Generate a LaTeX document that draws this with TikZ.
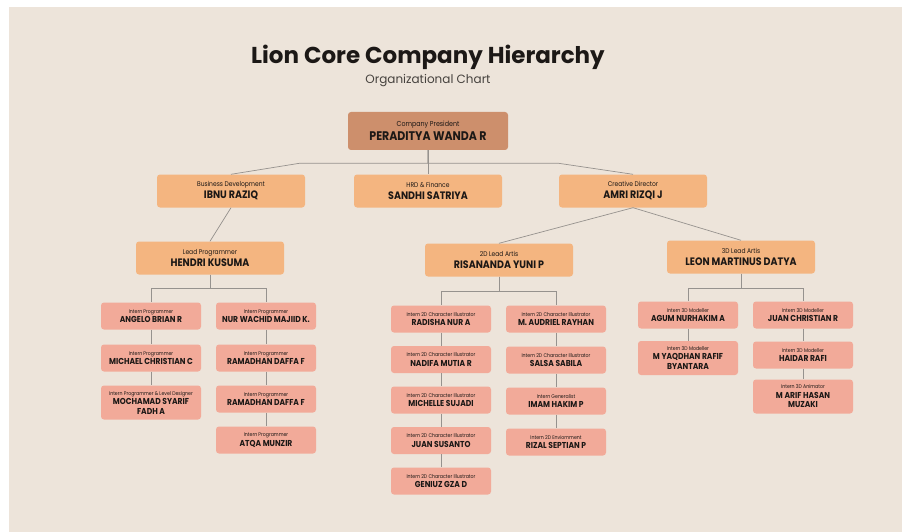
\documentclass[tikz,border=0pt]{standalone}
\usepackage{fontspec}
\setmainfont{Poppins}
\newfontfamily\namefont{Poppins}[FakeStretch=0.88]
\usepackage{xcolor}
\usepackage{tikz}
\usetikzlibrary{positioning}

\definecolor{bgc}{RGB}{237,228,218}
\definecolor{presc}{RGB}{205,143,108}
\definecolor{leadc}{RGB}{244,181,128}
\definecolor{internc}{RGB}{242,170,153}
\definecolor{linec}{RGB}{150,146,142}
\definecolor{inkc}{RGB}{28,24,22}
\definecolor{subc}{RGB}{70,66,62}

\newcommand{\jobrole}[1]{{\mdseries\fontsize{\rsize}{\rsize}\selectfont #1}}

\begin{document}
\begin{tikzpicture}[x=1pt, y=-1pt, on grid, node distance = 40pt and 100pt,
  card/.style={rectangle, rounded corners=3pt, align=center, inner sep=0pt, text=inkc},
  pres/.style={card, fill=presc, minimum width=160pt, minimum height=38pt, font=\namefont\def\rsize{7.2}\fontsize{12.5}{13.5}\selectfont\bfseries},
  lead/.style={card, fill=leadc, minimum width=148pt, minimum height=33pt, font=\namefont\def\rsize{6.8}\fontsize{10.8}{12}\selectfont\bfseries},
  intern/.style={card, fill=internc, minimum width=100pt, minimum height=27pt, font=\namefont\def\rsize{5.3}\fontsize{8.6}{9.5}\selectfont\bfseries},
  tall/.style={minimum height=34pt},
  link/.style={draw=linec, line width=0.7pt}]
		\fill[bgc] (9,7) rectangle (902,532);
		\useasboundingbox (0,0) rectangle (902,532);
		% title
		\node[font=\fontsize{23}{27}\selectfont\bfseries, text=inkc] (title) at (428,57) {Lion Core Company Hierarchy};
		\node[font=\fontsize{12}{14}\selectfont, text=subc] (subtitle) [below = 24pt of title] {Organizational Chart};
		% top levels
		\node[pres] (pres) at (428,131) {\jobrole{Company President}\\PERADITYA WANDA R};
		\node[lead] (hrd) [below = 60pt of pres] {\jobrole{HRD \& Finance}\\SANDHI SATRIYA};
		\node[lead] (bizdev) [left = 197pt of hrd] {\jobrole{Business Development}\\IBNU RAZIQ};
		\node[lead] (creative) [right = 205pt of hrd] {\jobrole{Creative Director}\\AMRI RIZQI J};
		\node[lead] (leadprog) [below left = 67pt and 21pt of bizdev] {\jobrole{Lead Programmer}\\HENDRI KUSUMA};
		\node[lead] (lead2d) [below left = 69pt and 134pt of creative] {\jobrole{2D Lead Artis}\\RISANANDA YUNI P};
		\node[lead] (lead3d) [below right = 66pt and 108pt of creative] {\jobrole{3D Lead Artis}\\LEON MARTINUS DATYA};
		% programmers
		\node[intern] (prog1) [below left = 58pt and 59pt of leadprog] {\jobrole{Intern Programmer}\\ANGELO BRIAN R};
		\node[intern] (prog2) [below = 42pt of prog1] {\jobrole{Intern Programmer}\\MICHAEL CHRISTIAN C};
		\node[intern, tall] (prog3) [below = 44.5pt of prog2] {\jobrole{Intern Programmer \& Level Designer}\\MOCHAMAD SYARIF\\FADH A};
		\node[intern] (prog4) [right = 115pt of prog1] {\jobrole{Intern Programmer}\\NUR WACHID MAJIID K.};
		\node[intern] (prog5) [below = 42pt of prog4] {\jobrole{Intern Programmer}\\RAMADHAN DAFFA F};
		\node[intern] (prog6) [below = 41pt of prog5] {\jobrole{Intern Programmer}\\RAMADHAN DAFFA F};
		\node[intern] (prog7) [below = 41pt of prog6] {\jobrole{Intern Programmer}\\ATQA MUNZIR};
		% 2D artists
		\node[intern] (art1) [below left = 59pt and 58pt of lead2d] {\jobrole{Intern 2D Character Illustrator}\\RADISHA NUR A};
		\node[intern] (art2) [below = 40.5pt of art1] {\jobrole{Intern 2D Character Illustrator}\\NADIFA MUTIA R};
		\node[intern] (art3) [below = 40.5pt of art2] {\jobrole{Intern 2D Character Illustrator}\\MICHELLE SUJADI};
		\node[intern] (art4) [below = 40.5pt of art3] {\jobrole{Intern 2D Character Illustrator}\\JUAN SUSANTO};
		\node[intern] (art5) [below = 40.5pt of art4] {\jobrole{Intern 2D Character Illustrator}\\GENIUZ GZA D};
		\node[intern] (art6) [right = 115pt of art1] {\jobrole{Intern 2D Character Illustrator}\\M. AUDRIEL RAYHAN};
		\node[intern] (art7) [below = 41pt of art6] {\jobrole{Intern 2D Character Illustrator}\\SALSA SABILA};
		\node[intern] (art8) [below = 41pt of art7] {\jobrole{Intern Generalist}\\IMAM HAKIM P};
		\node[intern] (art9) [below = 41pt of art8] {\jobrole{Intern 2D Enviornment}\\RIZAL SEPTIAN P};
		% 3D artists
		\node[intern] (mod1) [below left = 58pt and 53pt of lead3d] {\jobrole{Intern 3D Modeller}\\AGUM NURHAKIM A};
		\node[intern, tall] (mod2) [below = 43pt of mod1] {\jobrole{Intern 3D Modeller}\\M YAQDHAN RAFIF\\BYANTARA};
		\node[intern] (mod3) [right = 115pt of mod1] {\jobrole{Intern 3D Modeller}\\JUAN CHRISTIAN R};
		\node[intern] (mod4) [below = 40pt of mod3] {\jobrole{Intern 3D Modeller}\\HAIDAR RAFI};
		\node[intern, tall] (mod5) [below = 41.5pt of mod4] {\jobrole{Intern 3D Animator}\\M ARIF HASAN\\MUZAKI};
		% links
		\draw[link] (pres.south) -- (hrd.north);
		\draw[link] (pres.south) -- ++(0,13) -- ++(-128,0) -- (bizdev.north);
		\draw[link] (pres.south) -- ++(0,13) -- ++(130,0) -- (creative.north);
		\path[link] (bizdev.south) edge (leadprog.north)
		(creative.south) edge (lead2d.north)
		(creative.south) edge (lead3d.north);
		\draw[link] (leadprog.south) -- ++(0,14) -| (prog1.north);
		\draw[link] (leadprog.south) -- ++(0,14) -| (prog4.north);
		\draw[link] (lead2d.south) -- ++(0,15) -| (art1.north);
		\draw[link] (lead2d.south) -- ++(0,15) -| (art6.north);
		\draw[link] (lead3d.south) -- ++(0,15) -| (mod1.north);
		\draw[link] (lead3d.south) -- ++(0,15) -| (mod3.north);
		\path[link] (prog1) edge (prog2)
		(prog2) edge (prog3)
		(prog4) edge (prog5)
		(prog5) edge (prog6)
		(prog6) edge (prog7)
		(art1) edge (art2)
		(art2) edge (art3)
		(art3) edge (art4)
		(art4) edge (art5)
		(art6) edge (art7)
		(art7) edge (art8)
		(art8) edge (art9)
		(mod1) edge (mod2)
		(mod3) edge (mod4)
		(mod4) edge (mod5);
\end{tikzpicture}
\end{document}
